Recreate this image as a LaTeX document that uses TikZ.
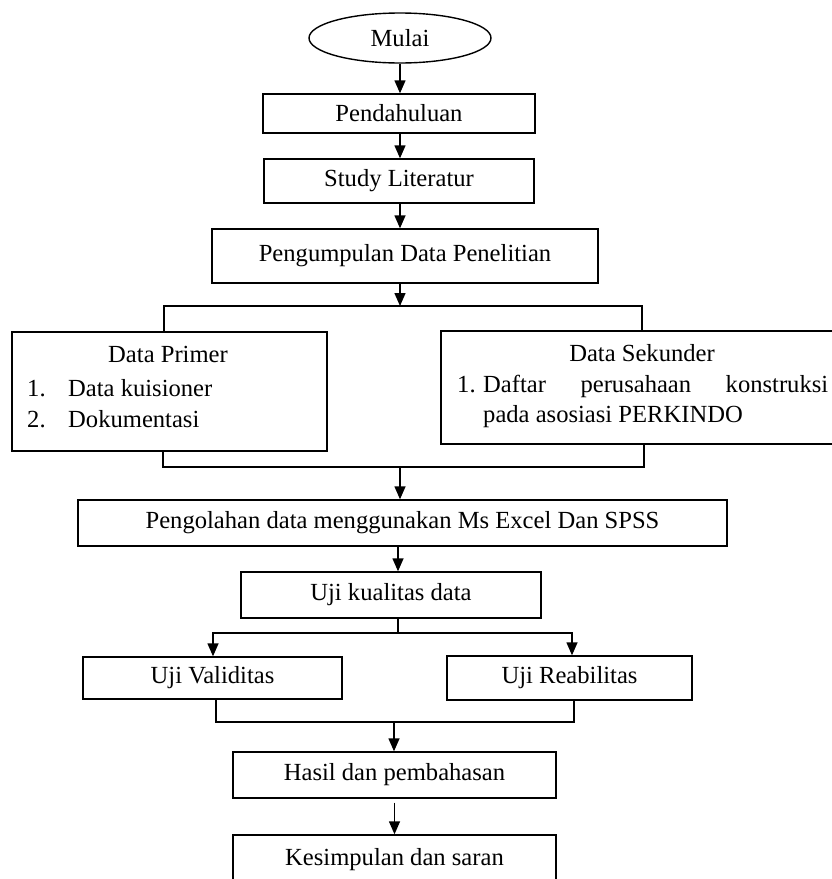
\documentclass[tikz,border=0pt]{standalone}
\usepackage{fontspec}
\setmainfont{Liberation Serif}
\usetikzlibrary{shapes.geometric,arrows.meta}
\tikzset{
  box/.style={draw, line width=1.4pt, inner sep=0pt, align=center},
  ln/.style={line width=1.4pt},
  arr/.style={line width=1.4pt, -{Triangle[length=13pt,width=11pt]}},
  txt/.style={inner sep=0pt}
}
\begin{document}
\begin{tikzpicture}[x=1pt,y=-1pt,font=\fontsize{24.6}{30}\selectfont]
\path[use as bounding box] (0,0) rectangle (832,879);
\clip (0,0) rectangle (832,879);
\fill[white] (0,0) rectangle (832,879);

% nodes
\node[box, ellipse, minimum width=182, minimum height=50] (start) at (400,38) {Mulai};
\node[box, minimum width=272, minimum height=39] (pend) at (399,113.5) {Pendahuluan};
\node[box, minimum width=270, minimum height=44] (study) at (399,181) {Study Literatur};
\node[box, minimum width=386, minimum height=54] (kumpul) at (405,256) {Pengumpulan Data Penelitian};

\node[box, minimum width=315, minimum height=119] (primer) at (169.5,391.5) {};
\node[txt, anchor=base] (ptitle) at (168,362) {Data Primer};
\node[txt, anchor=base west] (p1n) at (27,396) {1.};
\node[txt, anchor=base west] (p1) at (68,396) {Data kuisioner};
\node[txt, anchor=base west] (p2n) at (27,427) {2.};
\node[txt, anchor=base west] (p2) at (68,427) {Dokumentasi};

\node[box, minimum width=402, minimum height=113] (sek) at (642,387.5) {};
\node[txt, anchor=base] (stitle) at (642,361) {Data Sekunder};
\node[txt, anchor=base west] (s1n) at (457,392) {1.};
\node[txt, anchor=base west] (s1) at (483,392) {\hbox to 345pt{Daftar\hfill perusahaan\hfill konstruksi}};
\node[txt, anchor=base west] (s2) at (483,422) {pada asosiasi PERKINDO};

\node[box, minimum width=649, minimum height=46] (olah) at (402.5,523) {Pengolahan data menggunakan Ms Excel Dan SPSS};
\node[box, minimum width=300, minimum height=46] (kual) at (391,595) {Uji kualitas data};
\node[box, minimum width=259, minimum height=42] (valid) at (212.5,678) {Uji Validitas};
\node[box, minimum width=245, minimum height=44] (reab) at (569.5,678) {Uji Reabilitas};
\node[box, minimum width=323, minimum height=46] (hasil) at (394.5,775) {Hasil dan pembahasan};
\node[box, minimum width=323, minimum height=50] (simpul) at (394.5,860) {Kesimpulan dan saran};

% connectors
\draw[arr] (start.south) -- (start.south |- pend.north);
\draw[arr] (400,0 |- pend.south) -- (400,0 |- study.north);
\draw[arr] (400,0 |- study.south) -- (400,0 |- kumpul.north);

\coordinate (split1) at (400,306);
\draw[arr] (400,0 |- kumpul.south) -- (split1);
\draw[ln] (164,0 |- primer.north) -- (164,306) -- (642,306) -- (642,0 |- sek.north);

\coordinate (join1) at (400,467);
\draw[ln] (163,0 |- primer.south) -- (163,467) -- (644,467) -- (644,0 |- sek.south);
\draw[arr] (join1) -- (400,0 |- olah.north);

\draw[arr] (398,0 |- olah.south) -- (398,0 |- kual.north);

\coordinate (split2) at (398,633);
\draw[ln] (398,0 |- kual.south) -- (split2);
\draw[arr] (split2) -- (213,633) -- (213,0 |- valid.north);
\draw[arr] (split2) -- (572,633) -- (572,0 |- reab.north);

\coordinate (join2) at (394,722);
\draw[ln] (216,0 |- valid.south) -- (216,722) -- (574,722) -- (574,0 |- reab.south);
\draw[arr] (join2) -- (394,0 |- hasil.north);

\draw[arr] ([yshift=-4pt]hasil.south) -- (simpul.north);
\end{tikzpicture}
\end{document}
